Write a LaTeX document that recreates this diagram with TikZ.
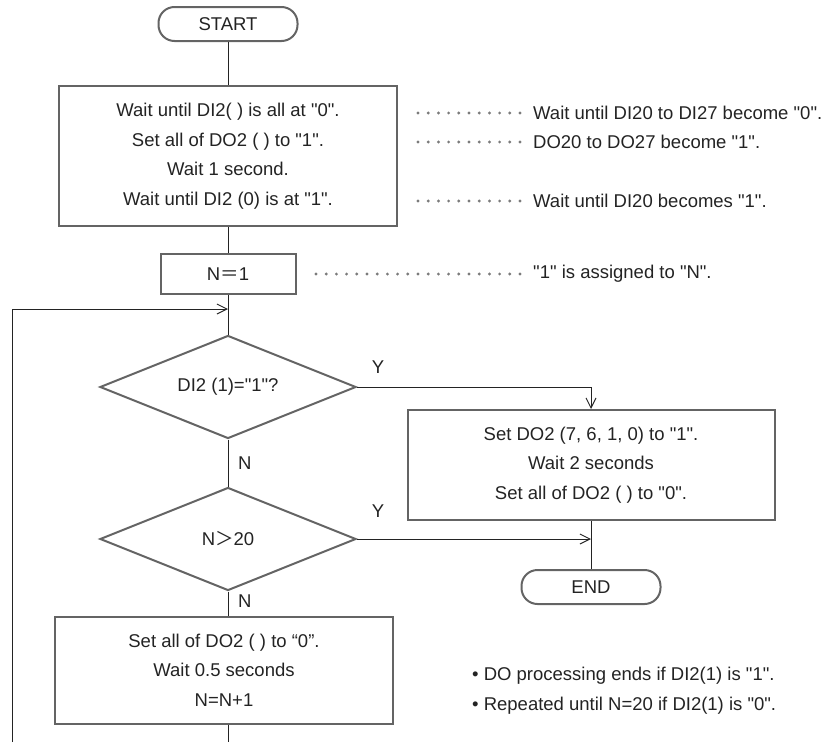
\documentclass[tikz,border=0pt]{standalone}
\usepackage{fontspec}
\setmainfont{Liberation Sans}[Ligatures=TeXOff]
\newfontfamily\cjk{Noto Sans CJK JP}
\usepackage{tikz}
\usetikzlibrary{arrows.meta, positioning, shapes.geometric}
\usepackage{xcolor}
\definecolor{frame}{RGB}{100,100,100}
\definecolor{ink}{RGB}{35,35,35}

\begin{document}
\begin{tikzpicture}[x=1pt, y=-1pt,
  every node/.style={font=\fontsize{18.5}{29.5}\selectfont, text=ink},
  box/.style={draw=frame, line width=2pt, align=center, inner sep=0pt},
  term/.style={draw=frame, line width=2pt, rounded corners=16pt, minimum width=139pt, minimum height=34pt, inner sep=0pt},
  decide/.style={draw=frame, line width=2pt, diamond, aspect=2.5, minimum width=256pt, minimum height=103pt, inner sep=0pt},
  flow/.style={draw=ink, line width=1pt},
  tip/.style={-{Straight Barb[length=10pt,width=10pt]}},
  dots/.style={draw=frame!85, line width=3.2pt, line cap=round, dash pattern=on 0pt off 10.2pt},
  note/.style={anchor=west, inner sep=0pt}]
  \useasboundingbox (0,0) rectangle (833,742);

  % main column
  \node[term] (start) at (228,24) {START};
  \node[box, minimum width=338pt, minimum height=140pt] (b1) at (228,156)
    {Wait until DI2( ) is all at "0".\\Set all of DO2 ( ) to "1".\\Wait 1 second.\\Wait until DI2 (0) is at "1".};
  \node[box, minimum width=135pt, minimum height=40pt] (n1) at (228,274) {N{\cjk ＝}1};
  \node[decide] (d1) at (228,387) {DI2 (1)="1"?};
  \node[decide] (d2) at (228,539) {N{\cjk ＞}20};
  \node[box, minimum width=338pt, minimum height=107pt] (b3) at (224,670)
    {Set all of DO2 ( ) to “0”.\\Wait 0.5 seconds\\N=N+1};

  % right branch
  \node[box, minimum width=367pt, minimum height=110pt] (b2) at (591,465)
    {Set DO2 (7, 6, 1, 0) to "1".\\Wait 2 seconds\\Set all of DO2 ( ) to "0".};
  \node[term] (endn) at (591,587) {END};

  % branch labels
  \node[inner sep=0pt] (y1) at (378,367) {Y};
  \node[inner sep=0pt] (y2) at (378,511) {Y};
  \node[note] (no1) at (238,463) {N};
  \node[note] (no2) at (238,601) {N};

  % connectors
  \coordinate (merge) at (228,309);
  \coordinate (loopbot) at (12,742);
  \coordinate (bot) at (228,742);
  \coordinate (join) at (b2.south |- d2.east);
  \draw[flow] (start) -- (b1);
  \draw[flow] (b1) -- (n1);
  \draw[flow] (n1) -- (d1);
  \draw[flow] (d1) -- (d2);
  \draw[flow] (d2.south) -- (d2.south |- b3.north);
  \draw[flow] (b3.south -| d2.south) -- (bot);
  \draw[flow, tip] (loopbot) |- (merge);
  \draw[flow, tip] (d1.east) -| (b2.north);
  \draw[flow] (b2) -- (endn);
  \draw[flow, tip] (d2.east) -- (join);

  % comments on the right
  \node[note] (a1) at (533,113) {Wait until DI20 to DI27 become "0".};
  \node[note] (a2) at (533,142) {DO20 to DO27 become "1".};
  \node[note] (a3) at (533,201) {Wait until DI20 becomes "1".};
  \node[note] (a4) at (533,274) {"1" is assigned to "N".};
  \coordinate (l1) at (418,113);
  \coordinate (l2) at (418,142);
  \coordinate (l3) at (418,201);
  \coordinate (l4) at (316,274);
  \draw[dots] (l1) -- ([xshift=-13pt]a1.west);
  \draw[dots] (l2) -- ([xshift=-13pt]a2.west);
  \draw[dots] (l3) -- ([xshift=-13pt]a3.west);
  \draw[dots] (l4) -- ([xshift=-13pt]a4.west);

  \node[note] (r1) at (472,676) {• DO processing ends if DI2(1) is "1".};
  \node[note] (r2) at (472,706) {• Repeated until N=20 if DI2(1) is "0".};
\end{tikzpicture}
\end{document}
